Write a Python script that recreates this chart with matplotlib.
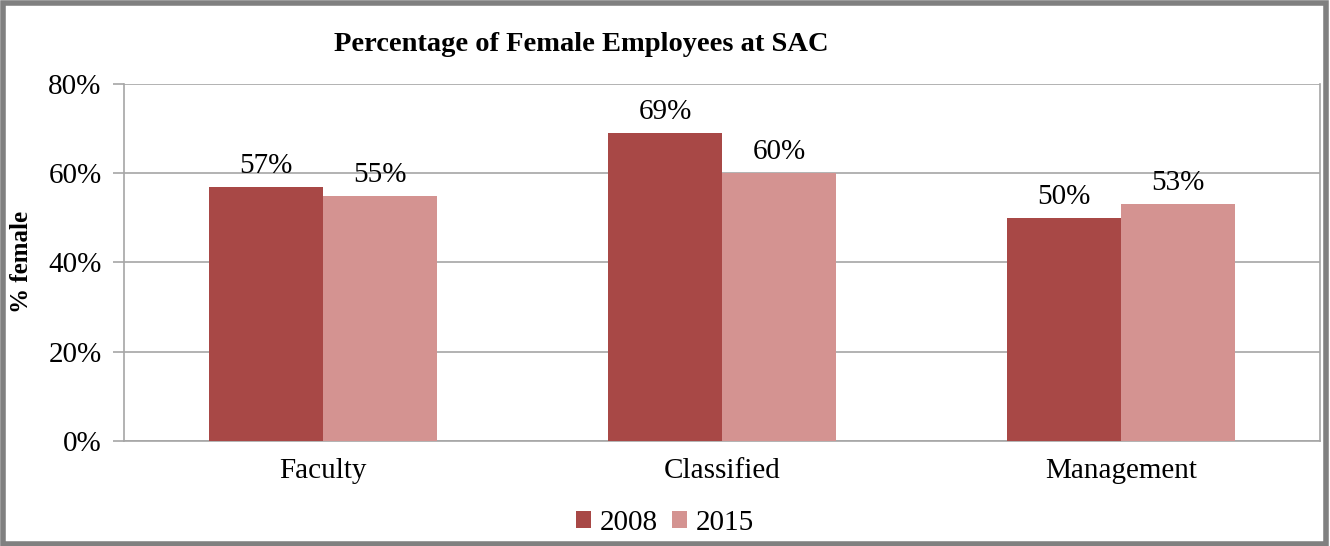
import matplotlib
matplotlib.use("Agg")
import matplotlib.pyplot as plt
import numpy as np
from matplotlib.patches import Rectangle

# data
categories = ["Faculty", "Classified", "Management"]
years = ["2008", "2015"]
pct_2008 = [57, 69, 50]
pct_2015 = [55, 60, 53]
yticks = [0, 20, 40, 60, 80]

c2008 = "#A84846"
c2015 = "#D49391"
grid_c = "#A6A6A6"

plt.rcParams['font.family'] = ['Liberation Serif', 'DejaVu Serif']

fig = plt.figure(figsize=(13.3, 5.46), dpi=100)
ax = fig.add_axes([0.0932, 0.1923, 0.8993, 0.6539])

x = np.arange(len(categories))
w = 0.286
b1 = ax.bar(x - w/2, pct_2008, w, color=c2008, label=years[0], zorder=3)
b2 = ax.bar(x + w/2, pct_2015, w, color=c2015, label=years[1], zorder=3)

for bars, vals in ((b1, pct_2008), (b2, pct_2015)):
    for r, v in zip(bars, vals):
        ax.text(r.get_x() + r.get_width()/2, v + 1.8, f"{v}%",
                ha="center", va="bottom", fontsize=21)

ax.set_xlim(-0.5, 2.5)
ax.set_ylim(0, 80)
ax.set_yticks(yticks)
ax.set_yticklabels([f"{t}%" for t in yticks], fontsize=21)
ax.set_xticks(x)
ax.set_xticklabels(categories, fontsize=21)
ax.tick_params(axis="x", length=0, pad=12)
ax.tick_params(axis="y", length=8, color=grid_c, width=1.2, pad=8)
ax.grid(axis="y", color=grid_c, linewidth=1.2, zorder=0)
for s in ax.spines.values():
    s.set_color(grid_c)
    s.set_linewidth(1.2)
ax.spines["top"].set_visible(False)

# y axis title
fig.text(22 / 1330, 1 - 262 / 546, "% female", rotation=90, ha="center", va="center",
         fontsize=18, fontweight="bold")

fig.text(0.437, 0.918, "Percentage of Female Employees at SAC",
         ha="center", va="center", fontsize=20.5, fontweight="bold")

fig.legend(handles=[b1, b2], labels=years, loc="center", bbox_to_anchor=(0.5, 0.042),
           ncol=2, frameon=False, fontsize=21, handlelength=0.5, handleheight=0.5,
           handletextpad=0.3, columnspacing=0.5)

fig.patches.append(Rectangle((0.002, 0.004), 0.995, 0.99, transform=fig.transFigure,
                             fill=False, edgecolor="#808080", linewidth=4))

fig.savefig("out.png", dpi=100)
